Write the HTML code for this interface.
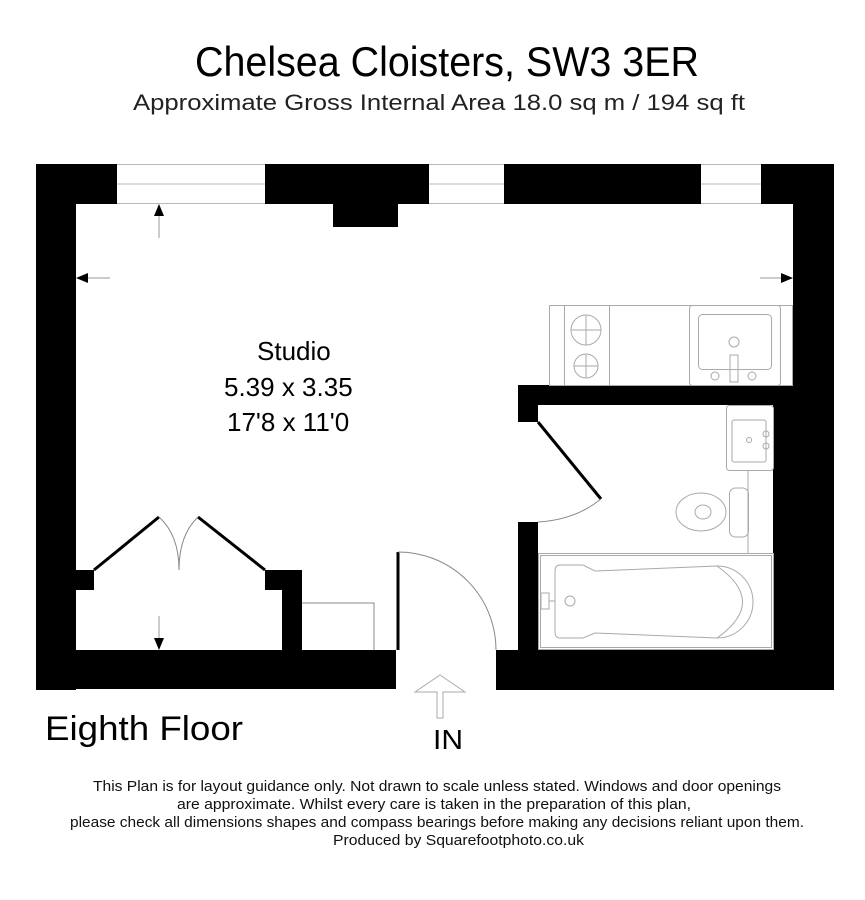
<!DOCTYPE html>
<html><head><meta charset="utf-8"><style>html,body{margin:0;padding:0;background:#fff;}svg{display:block}</style></head>
<body>
<svg width="865" height="900" viewBox="0 0 865 900" xmlns="http://www.w3.org/2000/svg" font-family="Liberation Sans, sans-serif">
<rect width="865" height="900" fill="#fff"/>
<text x="195" y="76" font-size="42" textLength="504" lengthAdjust="spacingAndGlyphs">Chelsea Cloisters, SW3 3ER</text>
<text x="133" y="110" font-size="22" fill="#222" textLength="612" lengthAdjust="spacingAndGlyphs">Approximate Gross Internal Area 18.0 sq m / 194 sq ft</text>
<!-- windows -->
<g stroke="#bbb" stroke-width="1">
<line x1="117" y1="164.5" x2="265" y2="164.5"/><line x1="117" y1="184" x2="265" y2="184"/><line x1="117" y1="203.5" x2="265" y2="203.5"/>
<line x1="429" y1="164.5" x2="504" y2="164.5"/><line x1="429" y1="184" x2="504" y2="184"/><line x1="429" y1="203.5" x2="504" y2="203.5"/>
<line x1="701" y1="164.5" x2="761" y2="164.5"/><line x1="701" y1="184" x2="761" y2="184"/><line x1="701" y1="203.5" x2="761" y2="203.5"/>
</g>
<g fill="#000">
<rect x="36" y="164" width="81" height="40"/>
<rect x="36" y="164" width="40" height="526"/>
<rect x="265" y="164" width="164" height="40"/>
<rect x="333" y="203" width="65" height="24"/>
<rect x="504" y="164" width="197" height="40"/>
<rect x="761" y="164" width="73" height="40"/>
<rect x="793" y="164" width="41" height="526"/>
<rect x="773" y="385" width="61" height="305"/>
<rect x="518" y="385" width="275" height="20"/>
<rect x="518" y="385" width="20" height="37"/>
<rect x="518" y="522" width="20" height="168"/>
<rect x="496" y="650" width="338" height="40"/>
<rect x="36" y="650" width="360" height="39"/>
<rect x="76" y="570" width="18" height="20"/>
<rect x="265" y="570" width="37" height="20"/>
<rect x="282" y="570" width="20" height="80"/>
</g>
<!-- arrows -->
<g stroke="#999" stroke-width="1">
<line x1="159" y1="210" x2="159" y2="238"/><line x1="80" y1="278" x2="110" y2="278"/>
<line x1="760" y1="278" x2="788" y2="278"/><line x1="159" y1="616" x2="159" y2="645"/>
</g>
<g fill="#000">
<polygon points="159,204 154,216 164,216"/>
<polygon points="76,278 88,273 88,283"/>
<polygon points="793,278 781,273 781,283"/>
<polygon points="159,650 154,638 164,638"/>
</g>
<!-- closet doors -->
<g stroke="#000" stroke-width="3"><line x1="94" y1="570" x2="159" y2="517"/><line x1="198" y1="517" x2="265" y2="570"/>
<line x1="538" y1="422" x2="601" y2="499"/><line x1="398" y1="552" x2="398" y2="650"/></g>
<g fill="none" stroke="#888" stroke-width="1">
<path d="M159,517 Q179,535 179,570"/><path d="M198,517 Q179,535 179,570"/>
<path d="M601,499 Q575,520 538,522"/>
<path d="M398,552 A98,98 0 0 1 496,650"/>
<path d="M302,603 H374 V650"/>
</g>
<!-- kitchen -->
<g fill="none" stroke="#aaa" stroke-width="1">
<rect x="549.5" y="305.5" width="243" height="80"/>
<rect x="564.5" y="305.5" width="45" height="80"/>
<circle cx="586" cy="330" r="15"/><circle cx="586" cy="366" r="12"/>
<line x1="571" y1="330" x2="601" y2="330"/><line x1="586" y1="315" x2="586" y2="345"/>
<line x1="574" y1="366" x2="598" y2="366"/><line x1="586" y1="354" x2="586" y2="378"/>
<rect x="689.5" y="305.5" width="91" height="80" rx="3"/>
<rect x="698.5" y="314.5" width="73" height="55" rx="4"/>
<circle cx="734" cy="342" r="5"/><circle cx="715" cy="376" r="4"/><circle cx="752" cy="376" r="4"/>
<rect x="730" y="355" width="8" height="27"/>
<!-- bathroom -->
<rect x="726.5" y="405.5" width="47" height="65" rx="3"/>
<rect x="732" y="420" width="34" height="42" rx="2"/>
<circle cx="749" cy="440" r="2.5"/><circle cx="766" cy="434" r="3"/><circle cx="766" cy="446" r="3"/>
<line x1="748" y1="470" x2="748" y2="553"/>
<rect x="729.5" y="488" width="19" height="49" rx="6"/>
<ellipse cx="701" cy="512" rx="25" ry="19"/>
<ellipse cx="703" cy="512" rx="8" ry="7"/>
<rect x="538.5" y="553.5" width="235" height="96"/>
<rect x="540.5" y="555.5" width="231" height="92"/>
<path d="M560,565 H583 L595,571 L717,566 A36,36 0 0 1 717,638 L595,633 L583,638 H560 Q555,638 555,632 V571 Q555,565 560,565 Z"/>
<path d="M717,566 Q768,602 717,638"/>
<circle cx="570" cy="601" r="5"/><rect x="541" y="593" width="8" height="16"/><line x1="549" y1="601" x2="555" y2="601"/>
</g>
<!-- IN arrow -->
<path d="M440,675 L465,692 L443,692 L443,718 L437,718 L437,692 L415,692 Z" fill="none" stroke="#aaa" stroke-width="1"/>
<text x="257" y="360" font-size="26">Studio</text>
<text x="224" y="396" font-size="26">5.39 x 3.35</text>
<text x="227" y="431" font-size="26">17'8 x 11'0</text>
<text x="45" y="740" font-size="34" textLength="198" lengthAdjust="spacingAndGlyphs">Eighth Floor</text>
<text x="433" y="749" font-size="28" textLength="30" lengthAdjust="spacingAndGlyphs">IN</text>
<g font-size="14.5" fill="#111">
<text x="93" y="791" textLength="688" lengthAdjust="spacingAndGlyphs">This Plan is for layout guidance only. Not drawn to scale unless stated. Windows and door openings</text>
<text x="177" y="809" textLength="514" lengthAdjust="spacingAndGlyphs">are approximate. Whilst every care is taken in the preparation of this plan,</text>
<text x="70" y="827" textLength="734" lengthAdjust="spacingAndGlyphs">please check all dimensions shapes and compass bearings before making any decisions reliant upon them.</text>
<text x="333" y="845" textLength="251" lengthAdjust="spacingAndGlyphs">Produced by Squarefootphoto.co.uk</text>
</g>
</svg>
</body></html>
